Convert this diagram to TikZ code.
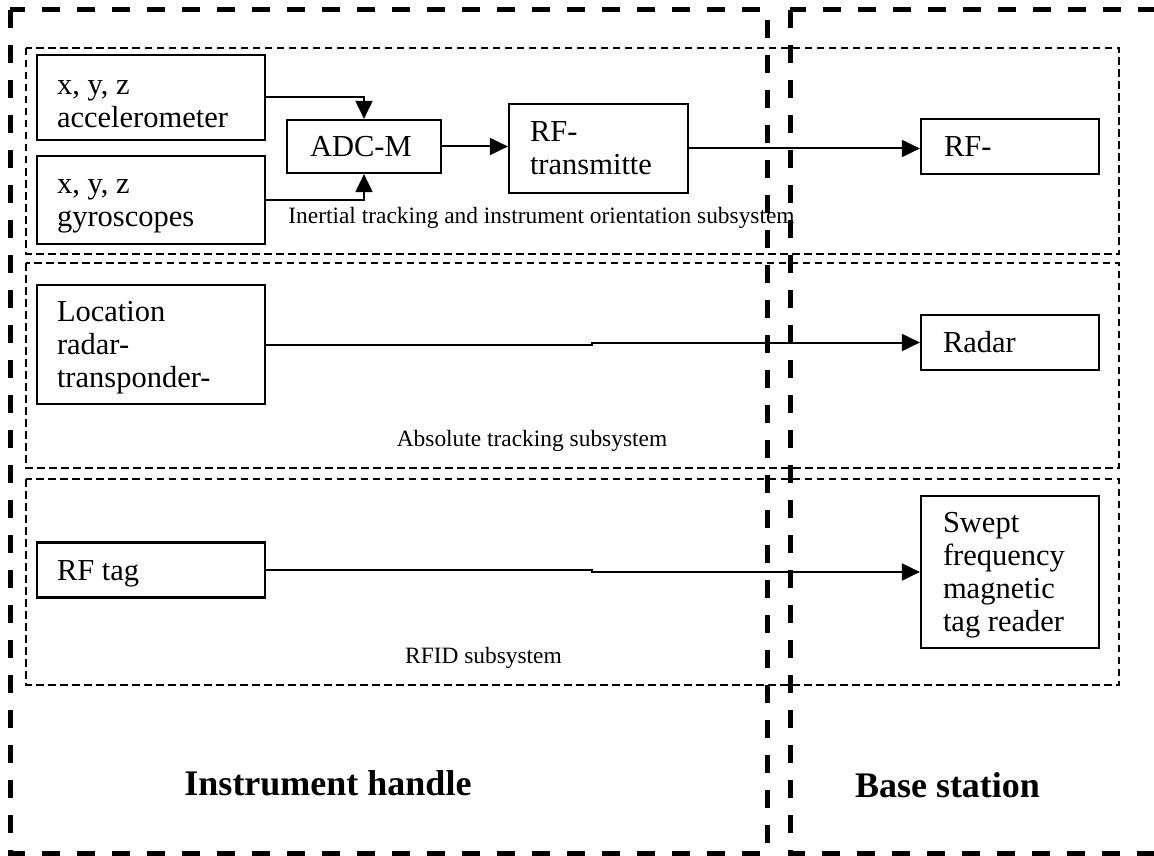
\documentclass[tikz,border=0pt]{standalone}
\usepackage{fontspec}
\setmainfont{Liberation Serif}
\usetikzlibrary{arrows.meta}
\newcommand\myTopStrut{\rule{0pt}{27pt}}
\begin{document}
\begin{tikzpicture}[x=1pt,y=-1pt,
 blk/.style={draw, line width=2.2pt, rectangle, inner xsep=20pt, inner ysep=0pt, align=flush left, font=\fontsize{30.5}{33}\selectfont},
 sub/.style={draw, line width=2pt, dash pattern=on 7.5pt off 4.5pt},
 outer/.style={draw, line width=5pt, dash pattern=on 18pt off 17pt},
 conn/.style={line width=2pt, -{Triangle[length=18pt,width=17pt]}},
 sublabel/.style={font=\fontsize{23.4}{26}\selectfont, inner sep=0pt},
 title/.style={font=\bfseries\fontsize{36}{40}\selectfont, inner sep=0pt}]
\useasboundingbox (0,0) rectangle (1154,856);
\clip (0,0) rectangle (1154,856);
\fill[white] (0,0) rectangle (1154,856);

% subsystem boxes
\draw[sub] (26,48) rectangle (1119,254);
\draw[sub] (26,263) rectangle (1119,468);
\draw[sub] (26,479) rectangle (1119,685);

% blocks
\node[blk, text width=188pt, minimum height=85pt] (accel) at (151,97.5) {\myTopStrut x, y, z\\accelerometer};
\node[blk, text width=188pt, minimum height=88pt] (gyro) at (151,200) {\myTopStrut x, y, z\\gyroscopes};
\node[blk, inner xsep=23pt, text width=108pt, minimum height=53pt] (adc) at (364,146.5) {ADC-M};
\node[blk, inner xsep=21pt, text width=137pt, minimum height=89pt] (rftx) at (598.5,148.5) {RF-\\transmitte};
\node[blk, inner xsep=23pt, text width=132pt, minimum height=55pt] (rfrx) at (1010,146.5) {RF-};
\node[blk, text width=188pt, minimum height=119pt] (loc) at (151,344.5) {\myTopStrut Location\\radar-\\transponder-};
\node[blk, inner xsep=22pt, text width=134pt, minimum height=55pt] (radar) at (1010,342.5) {Radar};
\node[blk, text width=188pt, minimum height=55pt] (rftag) at (151,570) {\myTopStrut RF tag};
\node[blk, inner xsep=22pt, text width=134pt, minimum height=152pt] (swept) at (1010,572) {\myTopStrut Swept\\frequency\\magnetic\\tag reader};

% connectors
\draw[conn] (accel.east) -| (adc.north);
\draw[conn] (gyro.east) -| (adc.south);
\draw[conn] (adc.east) -- (adc.east -| rftx.west);
\draw[conn] (rftx.east) -- (rftx.east -| rfrx.west);
\coordinate (j) at (592,0);
\draw[conn] (loc.east) -| (j |- radar.west) -- (radar.west);
\draw[conn] (rftag.east) -| (j |- swept.west) -- (swept.west);

% labels
\node[sublabel] (lin) at (541.5,218) {Inertial tracking and instrument orientation subsystem};
\node[sublabel] (labs) at (532,441) {Absolute tracking subsystem};
\node[sublabel] (lrfid) at (483.5,658) {RFID subsystem};
\node[title] (th) at (328,783) {Instrument handle};
\node[title] (tb) at (947.5,785) {Base station};

% outer boxes
\draw[outer] (10,10) rectangle (767,853);
\draw[outer] (790,10) rectangle (1180,853);
\end{tikzpicture}
\end{document}
